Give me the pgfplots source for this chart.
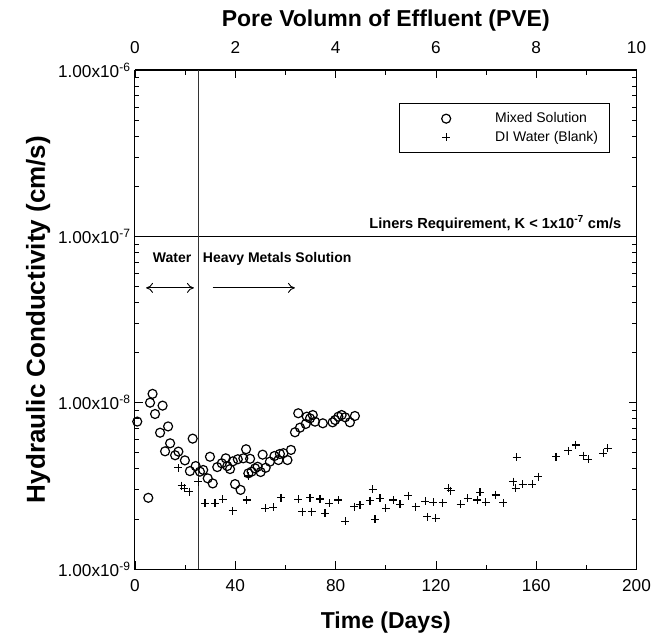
\documentclass[border=0pt]{standalone}
\usepackage{pgfplots}
\pgfplotsset{compat=1.18}
\usepackage{fontspec}
\setmainfont{Liberation Sans}
\usetikzlibrary{arrows.meta}
\pgfplotsset{mylegimg/.style={legend image code/.code={\path[draw=none,fill=none] (0pt,0pt) -- (85pt,0pt); \draw[##1] plot coordinates {(38pt,0pt)};}}}
\begin{document}
\begin{tikzpicture}
\useasboundingbox (-135pt,-72pt) rectangle (518pt,569pt);
\begin{axis}[
  at={(0pt,0pt)}, anchor=south west,
  scale only axis, width=501.5pt, height=499pt,
  xmin=0, xmax=200, ymode=log, ymin=1e-9, ymax=1e-6,
  xtick={0,40,80,120,160,200}, minor xtick={20,60,100,140,180},
  xtick pos=bottom, ytick pos=both,
  ytick={1e-9,1e-8,1e-7,1e-6},
  yticklabels={1.00x10\textsuperscript{-9},1.00x10\textsuperscript{-8},1.00x10\textsuperscript{-7},1.00x10\textsuperscript{-6}},
  minor ytick={2e-9,3e-9,4e-9,5e-9,6e-9,7e-9,8e-9,9e-9,2e-8,3e-8,4e-8,5e-8,6e-8,7e-8,8e-8,9e-8,2e-7,3e-7,4e-7,5e-7,6e-7,7e-7,8e-7,9e-7},
  tick align=inside, major tick length=8pt, minor tick length=4.5pt,
  every tick/.style={black, line width=0.8pt},
  axis line style={line width=1pt},
  /pgf/number format/assume math mode=true,
  ticklabel style={font=\fontsize{17.2}{17.2}\selectfont},
  xticklabel style={anchor=base, yshift=-22pt},
  yticklabel style={xshift=-1pt},
  xlabel={\bfseries Time (Days)},
  ylabel={\bfseries Hydraulic Conductivity (cm/s)},
  xlabel style={font=\fontsize{23}{23}\selectfont, at={(axis description cs:0.5,-0.1182)}, anchor=base},
  ylabel style={font=\fontsize{26}{26}\selectfont, at={(axis description cs:-0.1795,0.5)}, anchor=base},
  legend style={draw=black, line width=0.8pt, font=\fontsize{14}{17}\selectfont,
    at={(rel axis cs:0.526,0.934)}, anchor=north west, inner xsep=9pt, inner ysep=7.5pt,
    row sep=3pt},
  legend cell align=left,
]
\addplot[only marks, mark=o, mark size=4.5pt, mark options={line width=1.2pt, black}, mylegimg]
coordinates {
(0.9,7.7e-9)(5.3,2.68e-9)(6.0,1.0e-8)(7.0,1.13e-8)(8.0,8.55e-9)(10.0,6.6e-9)(11.0,9.6e-9)
(12.0,5.1e-9)(13.2,7.2e-9)(14.0,5.7e-9)(16.0,4.83e-9)(17.3,5.08e-9)(19.9,4.5e-9)(21.9,3.88e-9)
(23.0,6.08e-9)(24.2,4.16e-9)(25.9,3.85e-9)(27.2,3.94e-9)(29.0,3.51e-9)(29.9,4.73e-9)(31.0,3.27e-9)
(32.8,4.1e-9)(34.6,4.32e-9)(36.2,4.63e-9)(36.8,4.16e-9)(37.9,3.99e-9)(39.0,4.44e-9)(39.9,3.24e-9)
(41.0,4.57e-9)(42.1,2.99e-9)(43.2,4.63e-9)(44.3,5.25e-9)(45.2,3.76e-9)(45.9,4.6e-9)(46.5,3.85e-9)
(47.9,4.03e-9)(48.9,4.12e-9)(50.1,3.83e-9)(50.9,4.87e-9)(52.1,4.06e-9)(53.8,4.42e-9)(55.6,4.78e-9)
(57.2,4.52e-9)(57.8,4.92e-9)(59.2,4.97e-9)(60.8,4.52e-9)(62.2,5.2e-9)(63.8,6.64e-9)(65.1,8.64e-9)
(65.8,7.08e-9)(68.1,7.45e-9)(68.5,8.24e-9)(69.8,8.05e-9)(70.9,8.43e-9)(71.8,7.69e-9)(74.9,7.52e-9)
(78.8,7.62e-9)(79.8,7.87e-9)(81.1,8.24e-9)(82.4,8.43e-9)(83.8,8.17e-9)(85.7,7.62e-9)(87.7,8.32e-9)
};
\addlegendentry{Mixed Solution}
\addplot[only marks, mark=+, mark size=4pt, mark options={line width=1.2pt, black}, mylegimg]
coordinates {
(17.3,4.06e-9)(18.6,3.17e-9)(19.7,3.06e-9)(21.7,2.92e-9)(25.3,3.35e-9)(27.9,2.48e-9)(31.9,2.48e-9)
(35.0,2.63e-9)(39.0,2.24e-9)(44.5,2.60e-9)(45.2,3.63e-9)(51.9,2.32e-9)(55.2,2.35e-9)(58.2,2.68e-9)
(65.1,2.63e-9)(66.7,2.21e-9)(69.8,2.68e-9)(70.5,2.21e-9)(73.8,2.64e-9)(75.8,2.16e-9)(77.5,2.48e-9)
(81.1,2.60e-9)(83.8,1.94e-9)(87.5,2.37e-9)(89.7,2.43e-9)(93.7,2.58e-9)(94.8,3.02e-9)(95.7,1.99e-9)
(97.7,2.66e-9)(100.0,2.32e-9)(103.0,2.60e-9)(105.7,2.45e-9)(109.0,2.76e-9)(111.9,2.37e-9)(115.7,2.56e-9)
(116.6,2.06e-9)(119.0,2.52e-9)(119.9,2.02e-9)(122.7,2.50e-9)(124.9,3.06e-9)(125.9,2.96e-9)(129.9,2.45e-9)
(132.7,2.66e-9)(136.5,2.60e-9)(137.6,2.89e-9)(139.9,2.52e-9)(143.8,2.79e-9)(146.9,2.50e-9)(150.9,3.35e-9)
(151.8,3.06e-9)(152.2,4.69e-9)(154.6,3.23e-9)(158.5,3.24e-9)(160.8,3.59e-9)(167.9,4.73e-9)(172.8,5.14e-9)
(175.8,5.57e-9)(178.8,4.80e-9)(180.8,4.57e-9)(186.8,4.96e-9)(188.5,5.32e-9)
};
\addlegendentry{DI Water (Blank)}
\addplot[black, line width=0.9pt, forget plot] coordinates {(0,1e-7)(200,1e-7)};
\addplot[black!80, line width=0.9pt, forget plot] coordinates {(25.5,1e-9)(25.5,1e-6)};
\node[anchor=base east, inner sep=0pt, font=\fontsize{14.6}{14.6}\selectfont\bfseries] at (axis cs:194,1.12e-7) {Liners Requirement, K < 1x10\textsuperscript{-7} cm/s};
\node[anchor=base, inner sep=0pt, font=\fontsize{14}{14}\selectfont\bfseries] at (axis cs:14.8,7.0e-8) {Water};
\node[anchor=base west, inner sep=0pt, font=\fontsize{14}{14}\selectfont\bfseries] at (axis cs:27.0,7.0e-8) {Heavy Metals Solution};
\draw[{To[length=7pt,width=10pt]}-{To[length=7pt,width=10pt]}, line width=0.9pt] (axis cs:4.4,4.9e-8) -- (axis cs:23.5,4.9e-8);
\draw[-{To[length=7pt,width=10pt]}, line width=0.9pt] (axis cs:31.0,4.9e-8) -- (axis cs:63.8,4.9e-8);
\end{axis}
\begin{axis}[
  at={(0pt,0pt)}, anchor=south west,
  scale only axis, width=501.5pt, height=499pt,
  xmin=0, xmax=10, ymin=0, ymax=1,
  axis x line*=top, hide y axis,
  xtick={0,2,4,6,8,10}, minor xtick={1,3,5,7,9},
  tick align=inside, major tick length=8pt, minor tick length=4.5pt,
  every tick/.style={black, line width=0.8pt},
  axis line style={line width=1pt},
  /pgf/number format/assume math mode=true,
  ticklabel style={font=\fontsize{17.2}{17.2}\selectfont},
  xticklabel style={anchor=base, yshift=16pt},
  xlabel={\bfseries Pore Volumn of Effluent (PVE)},
  xlabel style={font=\fontsize{23}{23}\selectfont, at={(axis description cs:0.5,1)}, anchor=base, yshift=43pt},
]
\addplot[draw=none, forget plot] coordinates {(0,0)(10,1)};
\end{axis}
\end{tikzpicture}
\end{document}
